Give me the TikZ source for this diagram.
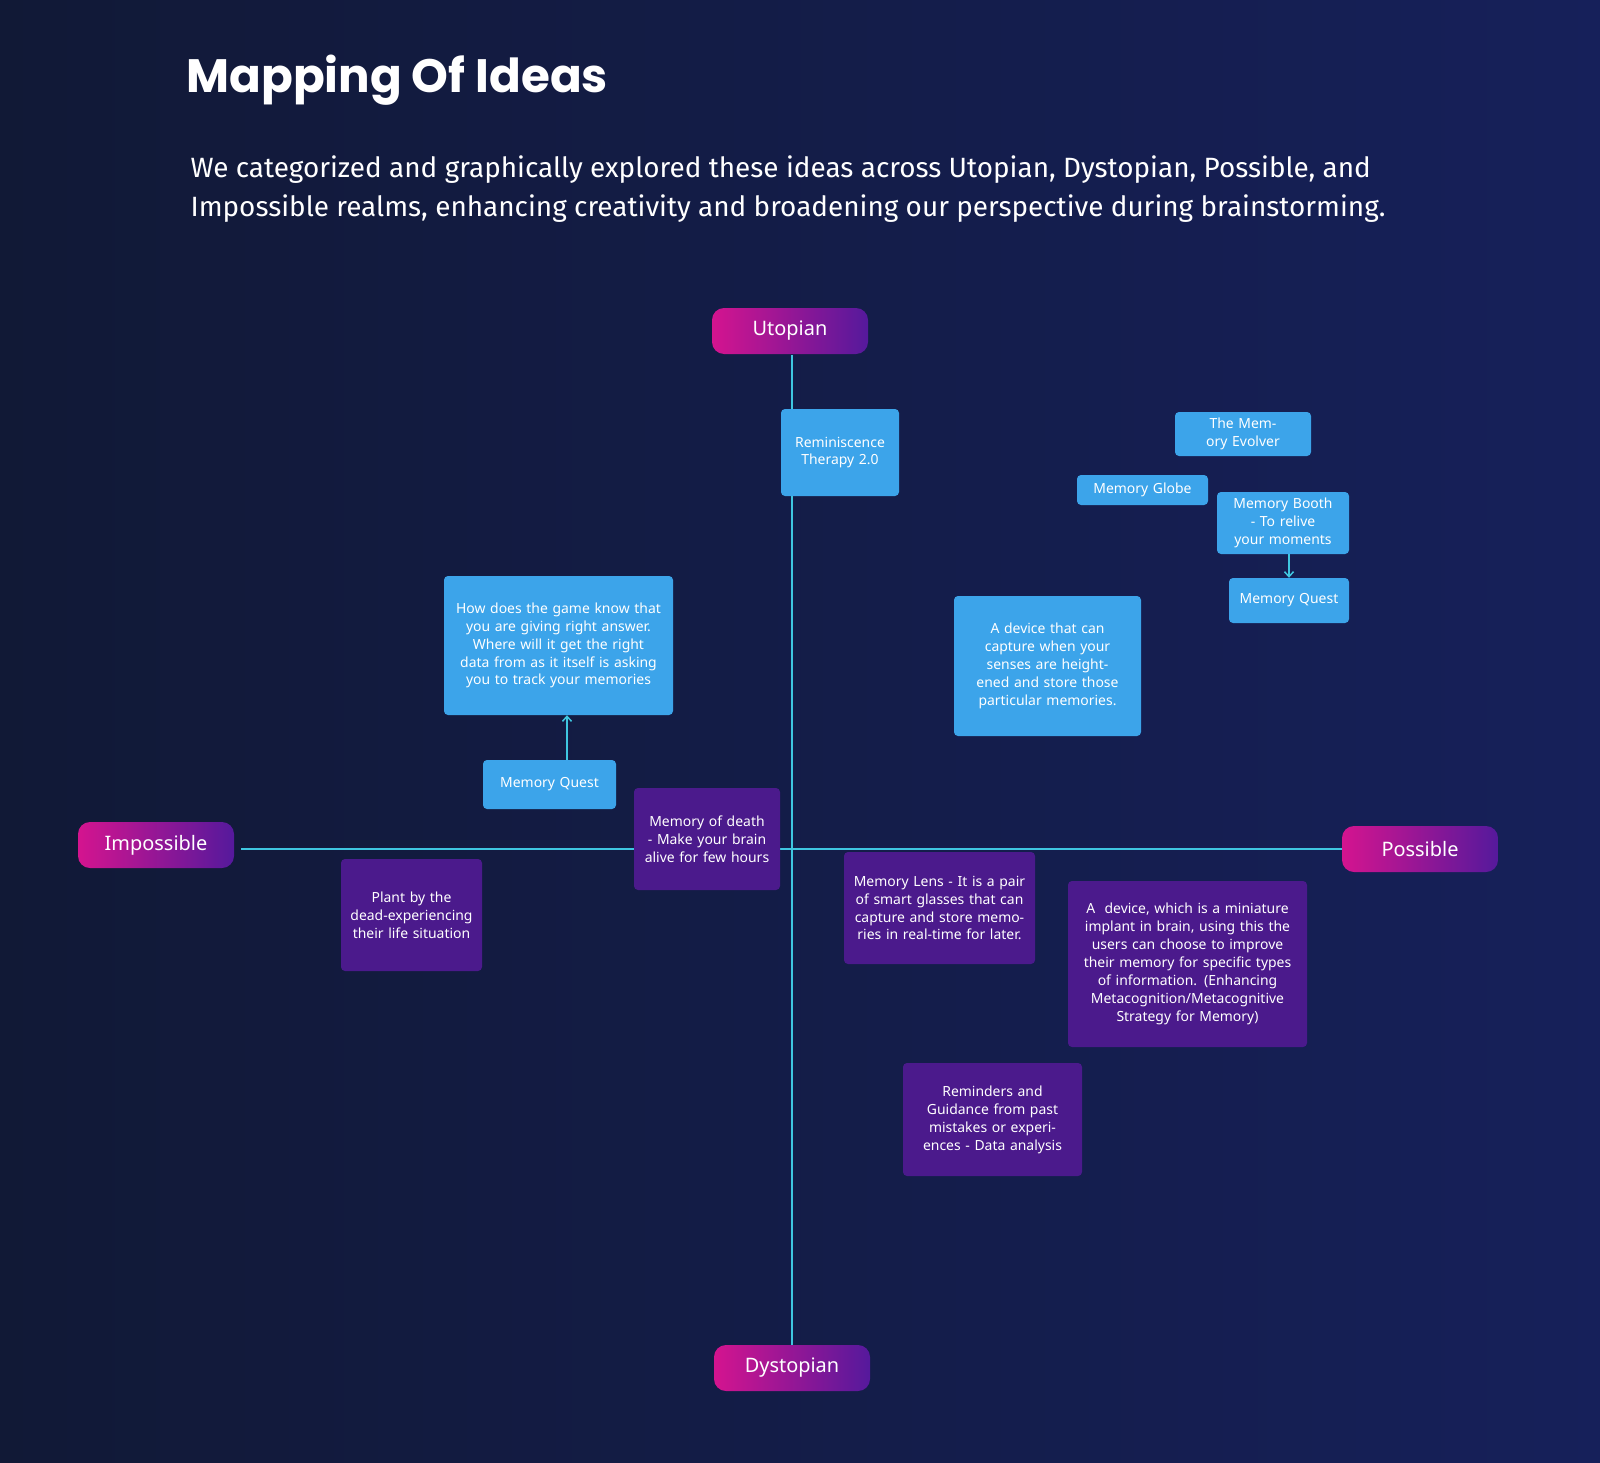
\documentclass[tikz,border=0pt]{standalone}
\usepackage{fontspec}
\setmainfont{Noto Sans}
\newfontfamily\titlefont{Poppins}
\newfontfamily\subfont{Fira Sans}
\definecolor{bgA}{HTML}{111936}
\definecolor{bgB}{HTML}{16205A}
\definecolor{axis}{HTML}{3FC6E0}
\definecolor{blu}{HTML}{3CA4EA}
\definecolor{pur}{HTML}{4B1A8C}
\definecolor{magA}{HTML}{D4148F}
\definecolor{magB}{HTML}{55199C}
\usetikzlibrary{arrows.meta}
\tikzset{
 box/.style={rounded corners=4bp,align=center,text=white,font=\fontsize{14}{18}\selectfont,inner sep=0pt},
 bbox/.style={box,fill=blu},
 pbox/.style={box,fill=pur},
 pill/.style={rounded corners=12bp,left color=magA,right color=magB,text=white,font=\fontsize{20}{24}\selectfont\bfseries,minimum width=156bp,minimum height=46bp,inner sep=0pt},
 ax/.style={axis,line width=1.5bp},
 arr/.style={axis,line width=1.5bp,-{Straight Barb[length=5bp,width=9bp]}}
}
\newcommand{\bx}[7]{% name,style,x1,y1,x2,y2,text
 \pgfmathsetmacro\bw{#5-#3}\pgfmathsetmacro\bh{#6-#4}\pgfmathsetmacro\tw{#5-#3-14}%
 \node[#2,minimum width=\bw bp,minimum height=\bh bp,text width=\tw bp] (#1) at ({(#3+#5)/2},{(#4+#6)/2}) {#7};}
\begin{document}
\begin{tikzpicture}[x=1bp,y=-1bp]
\shade[left color=bgA,right color=bgB] (0,0) rectangle (1600,1463);
\useasboundingbox (0,0) rectangle (1600,1463);
\node[anchor=west,text=white,font=\titlefont\fontsize{47}{50}\selectfont\bfseries] (title) at (183,80) {Mapping Of Ideas};
\node[anchor=north west,text=white,align=left,font=\subfont\fontsize{28}{39}\selectfont] (sub) at (187,152) {We categorized and graphically explored these ideas across Utopian, Dystopian, Possible, and\\Impossible realms, enhancing creativity and broadening our perspective during brainstorming.};
\node[pill] (uto) at (790,331) {Utopian};
\node[pill] (dys) at (792,1368) {Dystopian};
\node[pill] (imp) at (156,845) {Impossible};
\node[pill] (pos) at (1420,849) {Possible};
\coordinate (vt) at (792,355);
\coordinate (vb) at (792,1345);
\coordinate (hl) at (241,849);
\coordinate (hr) at (1342,849);
\draw[ax] (vt) -- (vb);
\draw[ax] (hl) -- (hr);
\bx{rem}{bbox}{781}{409}{899}{496}{Reminiscence Therapy 2.0}
\bx{evo}{bbox}{1175}{412}{1311}{456}{The Memory Evolver}
\bx{glo}{bbox}{1077}{475}{1208}{505}{Memory Globe}
\bx{boo}{bbox}{1217}{492}{1349}{554}{Memory Booth - To relive your moments}
\bx{mqr}{bbox}{1229}{578}{1349}{623}{Memory Quest}
\bx{dev}{bbox}{954}{596}{1141}{736}{A device that can capture when your senses are heightened and store those particular memories.}
\bx{how}{bbox}{444}{576}{673}{715}{How does the game know that you are giving right answer. Where will it get the right data from as it itself is asking you to track your memories}
\bx{mql}{bbox}{483}{760}{616}{809}{Memory Quest}
\bx{dea}{pbox}{634}{788}{780}{890}{Memory of death - Make your brain alive for few hours}
\bx{pla}{pbox}{341}{859}{482}{971}{Plant by the dead-experiencing their life situation}
\bx{len}{pbox}{844}{852}{1035}{964}{Memory Lens - It is a pair of smart glasses that can capture and store memories in real-time for later.}
\bx{imb}{pbox}{1068}{881}{1307}{1047}{A\ \ device, which is a miniature implant in brain, using this the users can choose to improve their memory for specific types of information. (Enhancing Metacognition/Metacognitive Strategy for Memory)}
\bx{rmd}{pbox}{903}{1063}{1082}{1176}{Reminders and Guidance from past mistakes or experiences - Data analysis}
\draw[arr] (mql.north -| 567,0) -- (how.south -| 567,0);
\draw[arr] (boo.south -| 1289,0) -- (mqr.north -| 1289,0);
\end{tikzpicture}
\end{document}
